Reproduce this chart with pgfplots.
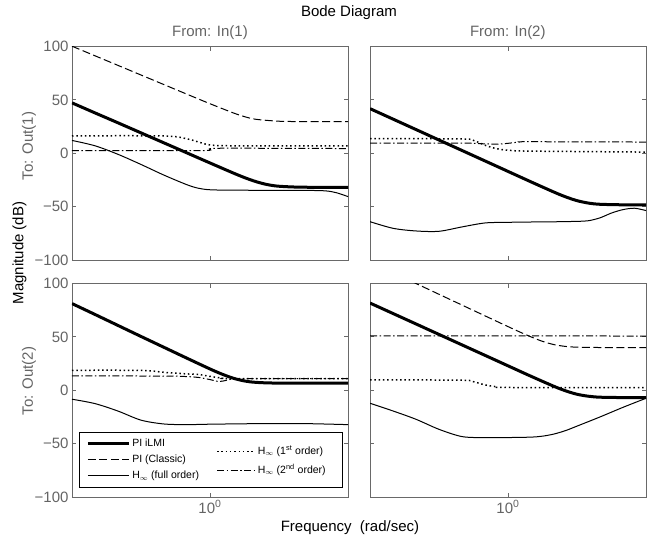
\documentclass[border=0pt]{standalone}
\usepackage{fontspec}
\setmainfont{Liberation Sans}
\usepackage{pgfplots}
\pgfplotsset{compat=1.18}
\definecolor{axgray}{RGB}{105,105,105}
\definecolor{lblgray}{RGB}{100,100,100}
\tikzset{
 ilmi/.style={black, line width=3pt},
 classic/.style={black, line width=1pt, dash pattern=on 8pt off 3.5pt},
 full/.style={black, line width=1pt},
 first/.style={black, line width=1.5pt, dash pattern=on 1.5pt off 2.8pt},
 second/.style={black, line width=1pt, dash pattern=on 7pt off 2.5pt on 1.5pt off 2.5pt},
}
\pgfplotsset{bode/.style={
  width=276pt, height=213.5pt, scale only axis, anchor=south west,
  xmin=0.001, xmax=1000, ymin=-100, ymax=100,
  xtick={1}, minor xtick={}, ytick={-100,-50,0,50,100},
  xticklabels={10\textsuperscript{0}},
  yticklabels={−100,−50,0,50,100},
  tick align=inside, major tick length=4pt,
  axis line style={axgray, line width=0.8pt},
  major tick style={axgray, line width=0.8pt},
  tick label style={font=\fontsize{15}{18}\selectfont, text=lblgray},
}}
\begin{document}
\begin{tikzpicture}[x=1pt,y=1pt]
\useasboundingbox (0,0) rectangle (666,-538);

% ---------- Out(1) <- In(1)
\begin{axis}[xmode=log, bode, at={(72pt,-260pt)}, xticklabels={}]
\addplot[classic, smooth] coordinates {(0.001,100.3) (0.003162,91.3) (0.01,82.3) (0.03162,73.3) (0.1,64.3) (0.3162,55.3) (1,46.4) (3.162,37.9) (5.623,34.3) (10,31.8) (31.62,30.0) (100,29.7) (1000,29.7)};
\addplot[first, smooth] coordinates {(0.001,16.3) (0.1,16.2) (0.3162,13.5) (0.5623,10.5) (1,7.8) (3.162,7) (1000,6.9)};
\addplot[second, smooth] coordinates {(0.001,2.5) (0.5623,2.5) (1,3.5) (1.778,4.7) (1000,4.4)};
\addplot[full, smooth] coordinates {(0.001,12) (0.003162,7) (0.01,-1) (0.03162,-10.5) (0.1,-20.5) (0.3162,-29.5) (0.5623,-32.8) (1,-34.2) (3.162,-34.6) (100,-34.8) (316.2,-35.2) (562.3,-37) (1000,-40.6)};
\addplot[ilmi, smooth] coordinates {(0.001,47.2) (0.003162,37.8) (0.01,28.5) (0.03162,19.1) (0.1,9.7) (0.3162,0.3) (1,-9.1) (3.162,-18.4) (5.623,-22.8) (10,-26.6) (17.78,-29.4) (31.62,-30.9) (100,-31.8) (1000,-31.9)};
\end{axis}

% ---------- Out(1) <- In(2)
\begin{axis}[xmode=log, bode, at={(370pt,-260pt)}, xticklabels={}, yticklabels={}]
\addplot[first, smooth] coordinates {(0.001,13.8) (0.1,13.4) (0.1778,12) (0.3162,7.5) (0.5623,4.3) (1,2.8) (3.162,2) (1000,1.1)};
\addplot[second, smooth] coordinates {(0.001,9.6) (0.1,9.5) (0.3162,8.8) (0.5623,8.5) (1,9.3) (1.778,10.5) (3.162,10.8) (1000,10.5)};
\addplot[full, smooth] coordinates {(0.001,-64.1) (0.003162,-70.3) (0.01,-72.8) (0.03162,-73.1) (0.1,-69) (0.3162,-65.3) (1,-64.7) (3.162,-64.4) (10,-64.2) (31.62,-63.8) (56.23,-63.2) (100,-60.5) (177.8,-56) (316.2,-52.8) (562.3,-51.5) (1000,-53.7)};
\addplot[ilmi, smooth] coordinates {(0.001,41.8) (0.003162,32) (0.01,22.2) (0.03162,12.4) (0.1,2.6) (0.3162,-7.2) (1,-17) (3.162,-26.8) (10,-36.4) (17.78,-40.8) (31.62,-44.4) (56.23,-46.7) (100,-47.8) (316.2,-48.3) (1000,-48.4)};
\end{axis}

% ---------- Out(2) <- In(1)
\begin{axis}[xmode=log, bode, at={(72pt,-497pt)},
  legend image code/.code={\draw[#1] (0pt,0pt) -- (41pt,0pt);},
  legend style={at={(rel axis cs:0.051,0.287)}, anchor=north west, draw=none, fill=none,
    inner sep=0pt, row sep=0pt, font=\fontsize{10.5}{12}\selectfont,
    nodes={inner xsep=2pt, inner ysep=2.75pt, text height=8pt, text depth=2.5pt}},
  legend cell align=left]
\addplot[ilmi, smooth] coordinates {(0.001,81.2) (0.003162,71) (0.01,60.7) (0.03162,50.4) (0.1,40.2) (0.3162,30) (1,19.95) (1.778,15.3) (3.162,11.35) (5.623,8.7) (10,7.4) (31.62,6.7) (1000,6.6)};
\addlegendentry{PI iLMI}
\addlegendimage{classic}
\addlegendentry{PI (Classic)}
\addplot[full, smooth] coordinates {(0.001,-8.4) (0.003162,-12.5) (0.01,-19.5) (0.03162,-28) (0.1,-31.6) (0.3162,-32.2) (1,-31.8) (10,-31.3) (100,-31.2) (1000,-32.2)};
\addlegendentry{H$_\infty$ (full order)}
\addplot[first, smooth, forget plot] coordinates {(0.001,18.7) (0.03162,18.6) (0.1,16.8) (0.3162,15.3) (0.5623,14.8) (1,13) (1.778,11.5) (3.162,10.9) (1000,10.9)};
\addplot[second, smooth, forget plot] coordinates {(0.001,13.4) (0.1,13.3) (0.3162,12.8) (0.5623,12) (1,10) (1.585,8.2) (2.371,9.5) (3.162,10.8) (5.623,11) (1000,11)};
\draw[black, line width=0.9pt] (rel axis cs:0.026,0.047) rectangle (rel axis cs:0.981,0.304);
\end{axis}
\begin{axis}[xmode=log, bode, at={(72pt,-497pt)}, hide axis,
  legend image code/.code={\draw[#1] (0pt,0pt) -- (38pt,0pt);},
  legend style={at={(rel axis cs:0.522,0.2585)}, anchor=north west, draw=none, fill=none,
    inner sep=0pt, row sep=0pt, font=\fontsize{10.5}{12}\selectfont,
    nodes={inner xsep=2pt, inner ysep=4.25pt, text height=8pt, text depth=2.5pt}},
  legend cell align=left]
\addlegendimage{first}
\addlegendentry{H$_\infty$ (1\textsuperscript{st} order)}
\addlegendimage{second}
\addlegendentry{H$_\infty$ (2\textsuperscript{nd} order)}
\end{axis}

% ---------- Out(2) <- In(2)
\begin{axis}[xmode=log, bode, at={(370pt,-497pt)}, yticklabels={}]
\addplot[classic, smooth] coordinates {(0.001,120.2) (0.003162,110.1) (0.01,100) (0.03162,89.9) (0.1,79.8) (0.3162,69.7) (1,59.65) (1.778,54.7) (3.162,50) (5.623,45.8) (10,42.75) (17.78,41.07) (31.62,40.36) (100,40.04) (1000,40)};
\addplot[second] coordinates {(0.001,51) (1000,50.8)};
\addplot[first, smooth] coordinates {(0.001,9.8) (0.1,9.4) (0.1778,8) (0.3162,5) (0.5623,3.3) (1,2.6) (1000,2.4)};
\addplot[full, smooth] coordinates {(0.001,-12.2) (0.003162,-19.4) (0.01,-27.2) (0.03162,-36.6) (0.1,-43.4) (0.3162,-44.4) (1,-44.3) (3.162,-43.9) (5.623,-43) (10,-41) (17.78,-37.8) (31.62,-33.6) (100,-25) (316.2,-16) (1000,-7.5)};
\addplot[ilmi, smooth] coordinates {(0.001,81.7) (0.003162,71.9) (0.01,62.1) (0.03162,52.3) (0.1,42.5) (0.3162,32.7) (1,22.9) (3.162,13.1) (10,3.66) (17.78,-0.5) (31.62,-3.75) (56.23,-5.6) (100,-6.5) (316.2,-6.85) (1000,-6.9)};
\end{axis}

% ---------- texts
\node[anchor=base, font=\fontsize{15}{18}\selectfont] at (349pt,-16.7pt) {Bode Diagram};
\node[anchor=base, font=\fontsize{15}{18}\selectfont, text=lblgray] at (210pt,-36.7pt) {From: In(1)};
\node[anchor=base, font=\fontsize{15}{18}\selectfont, text=lblgray] at (507.8pt,-36.7pt) {From: In(2)};
\node[rotate=90, font=\fontsize{15}{18}\selectfont, text=lblgray] at (29pt,-146pt) {To: Out(1)};
\node[rotate=90, font=\fontsize{15}{18}\selectfont, text=lblgray] at (29pt,-381pt) {To: Out(2)};
\node[rotate=90, font=\fontsize{15}{18}\selectfont] at (19.5pt,-253pt) {Magnitude (dB)};
\node[anchor=base, font=\fontsize{15}{18}\selectfont] at (350pt,-531pt) {Frequency\ \ (rad/sec)};
\end{tikzpicture}
\end{document}
